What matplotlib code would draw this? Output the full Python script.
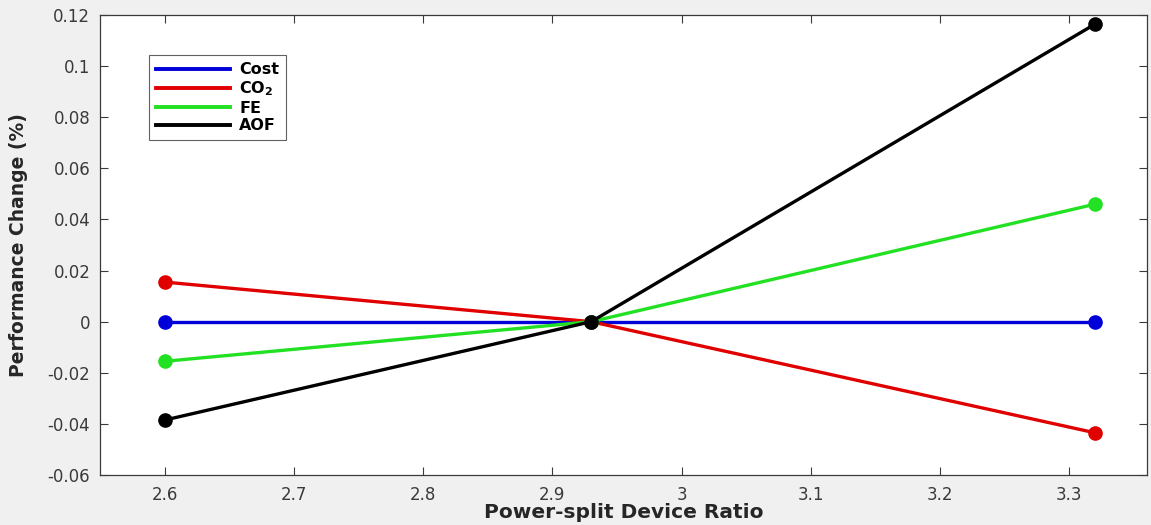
import matplotlib
matplotlib.use("Agg")
import matplotlib.pyplot as plt
from matplotlib.ticker import FuncFormatter, MultipleLocator

plt.rcParams['font.family'] = ['DejaVu Sans']
plt.rcParams['mathtext.fontset'] = 'dejavusans'

ratio = [2.6, 2.93, 3.32]
cost = [0.0, 0.0, 0.0]
co2 = [0.0155, 0.0, -0.0435]
fe = [-0.0155, 0.0, 0.046]
aof = [-0.0385, 0.0, 0.1165]

series = [
    ("Cost", cost, "#0000d8"),
    (r"CO$_\mathbf{2}$", co2, "#e00000"),
    ("FE", fe, "#22e022"),
    ("AOF", aof, "#000000"),
]

fig = plt.figure(figsize=(11.51, 5.25), dpi=100, facecolor="#f0f0f0")
ax = fig.add_axes([0.0869, 0.0952, 0.9096, 0.8762])
ax.set_facecolor("white")

for name, vals, color in series:
    ax.plot(ratio, vals, color=color, lw=2.4, marker="o", ms=9.5,
            markeredgecolor=color, markerfacecolor=color, label=name)

ax.set_xlim(2.55, 3.36)
ax.set_ylim(-0.06, 0.12)
ax.xaxis.set_major_locator(MultipleLocator(0.1))
ax.yaxis.set_major_locator(MultipleLocator(0.02))
fmt = FuncFormatter(lambda v, p: "%g" % round(v, 4))
ax.xaxis.set_major_formatter(fmt)
ax.yaxis.set_major_formatter(fmt)

ax.tick_params(direction="in", top=True, right=True, length=6, width=0.8,
               labelsize=12, labelcolor="#3a3a3a", color="#3a3a3a")
ax.tick_params(axis="x", pad=8)
ax.tick_params(axis="y", pad=7)
for s in ax.spines.values():
    s.set_color("#3a3a3a")
    s.set_linewidth(0.9)

ax.set_xlabel("Power-split Device Ratio", fontsize=14.5, fontweight="bold",
              labelpad=-1, color="#262626")
ax.set_ylabel("Performance Change (%)", fontsize=13.5, fontweight="bold",
              labelpad=14, color="#262626")

leg = ax.legend(loc="upper left", bbox_to_anchor=(0.0468, 0.913),
                prop={"weight": "bold", "size": 11.5}, frameon=True,
                fancybox=False, edgecolor="#3a3a3a", handlelength=4.6,
                handletextpad=0.6, labelspacing=0.15, borderpad=0.45,
                borderaxespad=0.0, markerscale=0)
leg.get_frame().set_linewidth(0.8)
for h in leg.get_lines():
    h.set_marker("")
    h.set_linewidth(2.8)

fig.savefig("out.png", dpi=100, facecolor=fig.get_facecolor())
